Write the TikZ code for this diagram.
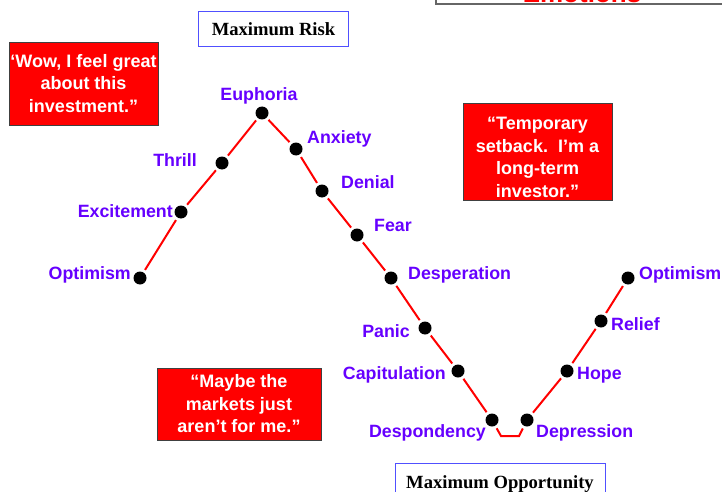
\documentclass[tikz,border=0pt]{standalone}
\usepackage{fontspec}
\setmainfont{Liberation Serif}
\setsansfont{Liberation Sans}
\usetikzlibrary{positioning}

\definecolor{mood}{RGB}{102,0,255}
\definecolor{boxblue}{RGB}{80,80,255}
\tikzset{
  dot/.style={circle,fill=black,minimum size=13pt,inner sep=0pt,outer sep=3pt},
  mood/.style={text=mood,font=\sffamily\bfseries\fontsize{17.8}{20}\selectfont,inner sep=0pt},
  quote/.style={fill=red,draw=black!75,line width=0.8pt,text=white,align=center,
    font=\sffamily\bfseries\fontsize{18}{22.5}\selectfont,inner sep=0pt},
  riskbox/.style={draw=boxblue,line width=1pt,fill=white,
    font=\rmfamily\bfseries\fontsize{18.6}{20}\selectfont,inner sep=0pt}
}

\begin{document}
\begin{tikzpicture}[x=1pt,y=-1pt]
      \useasboundingbox (0,0) rectangle (722,492);
      \clip (0,0) rectangle (722,492);
      % title box, mostly off the page
      \draw[black!60,line width=1.5pt] (436,-40) rectangle (760,4);
      \node[text=red,font=\sffamily\bfseries\fontsize{26}{28}\selectfont,anchor=base,inner sep=0pt] (title) at (582,3) {Emotions};

      \node[riskbox,minimum width=150pt,minimum height=35pt] (risk) at (273.5,29.5) {Maximum Risk};
      \node[riskbox,minimum width=210pt,minimum height=42pt] (opp) at (500,484) {Maximum Opportunity};

      \node[dot] (opt1) at (140,278) {};
      \node[dot] (exc) at (181,212) {};
      \node[dot] (thr) at (222,163) {};
      \node[dot] (eup) at (262,113) {};
      \node[dot] (anx) at (296,149) {};
      \node[dot] (den) at (322,191) {};
      \node[dot] (fear) at (357,235) {};
      \node[dot] (desp) at (391,278) {};
      \node[dot] (pan) at (425,328) {};
      \node[dot] (cap) at (458,371) {};
      \node[dot] (dsp) at (492,420) {};
      \node[dot] (dpr) at (527,420) {};
      \node[dot] (hope) at (567,371) {};
      \node[dot] (rel) at (601,321) {};
      \node[dot] (opt2) at (628,278) {};
      \coordinate (lowA) at (501,436);
      \coordinate (lowB) at (519,436);

      \draw[red,line width=2pt] (opt1) -- (exc) -- (thr) -- (eup) -- (anx) -- (den) -- (fear)
        -- (desp) -- (pan) -- (cap) -- (dsp) -- (lowA) -- (lowB) -- (dpr) -- (hope) -- (rel) -- (opt2);

      \node[mood,anchor=east] (l1) at (131,275) {Optimism};
      \node[mood,anchor=east] (l2) at (173,211) {Excitement};
      \node[mood,anchor=east] (l3) at (197,160) {Thrill};
      \node[mood] (l4) at (259,96) {Euphoria};
      \node[mood,anchor=west] (l5) at (307,139) {Anxiety};
      \node[mood,anchor=west] (l6) at (341,182) {Denial};
      \node[mood,anchor=west] (l7) at (374,225) {Fear};
      \node[mood,anchor=west] (l8) at (408,275) {Desperation};
      \node[mood,anchor=east] (l9) at (410,331) {Panic};
      \node[mood,anchor=east] (l10) at (446,375) {Capitulation};
      \node[mood,anchor=east] (l11) at (486,433) {Despondency};
      \node[mood,anchor=west] (l12) at (536,433) {Depression};
      \node[mood,anchor=west] (l13) at (577,375) {Hope};
      \node[mood,anchor=west] (l14) at (611,324) {Relief};
      \node[mood,anchor=west] (l15) at (639,275) {Optimism};

      \node[quote,minimum width=149pt,minimum height=83pt] (wow) at (83.5,83.5)
        {‘Wow, I feel great\\about this\\investment.”};
      \node[quote,minimum width=149pt,minimum height=97pt] (setback) at (537.5,151.5) {};
      \node[quote,fill=none,draw=none] (setbacktxt) at ([yshift=-6pt]setback.center)
        {“Temporary\\setback.\ \ I’m a\\long-term\\investor.”};
      \node[quote,minimum width=164pt,minimum height=72pt] (maybe) at (239,404)
        {“Maybe the\\markets just\\aren’t for me.”};
    \end{tikzpicture}
\end{document}
